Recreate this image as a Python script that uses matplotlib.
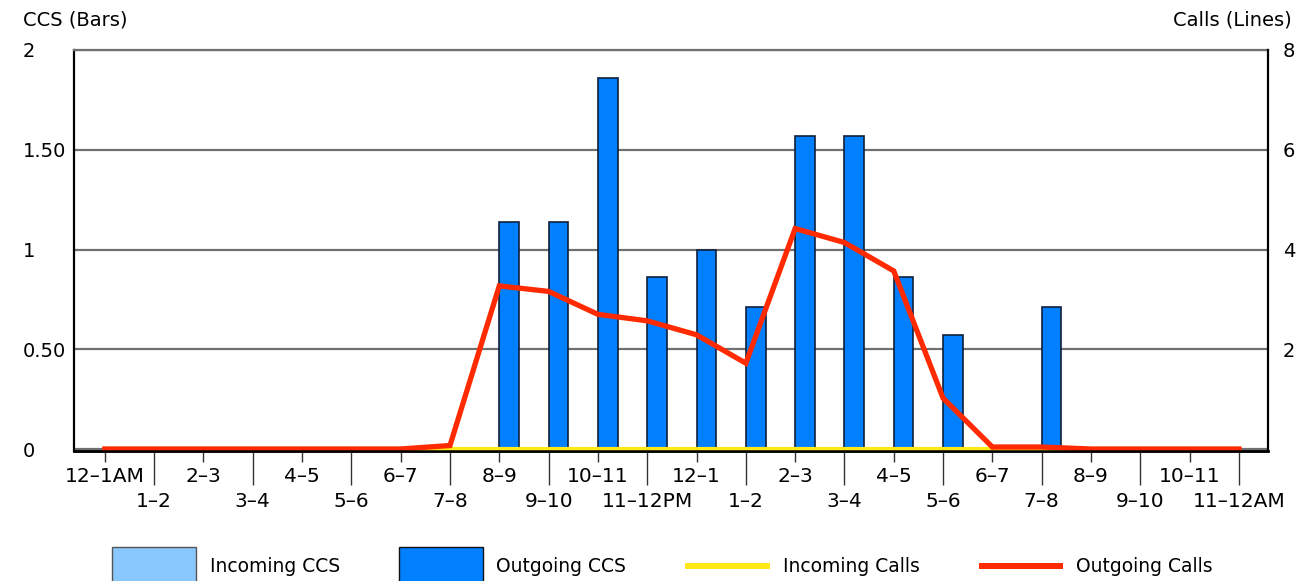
import matplotlib
matplotlib.use("Agg")
import matplotlib.pyplot as plt
from matplotlib.patches import Patch, Rectangle
from matplotlib.legend_handler import HandlerPatch
import numpy as np

# hourly buckets, midnight to midnight
hours = ["12–1AM", "1–2", "2–3", "3–4", "4–5", "5–6", "6–7", "7–8",
         "8–9", "9–10", "10–11", "11–12PM", "12–1", "1–2", "2–3", "3–4",
         "4–5", "5–6", "6–7", "7–8", "8–9", "9–10", "10–11", "11–12AM"]

incoming_ccs = [0.0] * 24
outgoing_ccs = [0, 0, 0, 0, 0, 0, 0, 0,
                1.14, 1.14, 1.86, 0.86, 1.0, 0.71, 1.57, 1.57,
                0.86, 0.57, 0, 0.71, 0, 0, 0, 0]

incoming_calls = [0.0] * 24
outgoing_calls = [0, 0, 0, 0, 0, 0, 0, 0.07,
                  3.27, 3.16, 2.70, 2.57, 2.29, 1.72, 4.42, 4.14,
                  3.57, 1.02, 0.04, 0.04, 0, 0, 0, 0]

left_ticks = [0, 0.5, 1, 1.5, 2]
left_labels = ["0", "0.50", "1", "1.50", "2"]
right_ticks = [2, 4, 6, 8]
right_labels = ["2", "4", "6", "8"]

c_light = "#88c8ff"
c_blue = "#0080ff"
c_yellow = "#ffe81a"
c_red = "#ff2a00"
grid_c = "#707070"

W, H = 1304, 581
fig = plt.figure(figsize=(W / 100, H / 100), dpi=100)
ax = fig.add_axes([74 / W, 1 - 451 / H, (1268 - 74) / W, 401 / H])

x = np.arange(len(hours))
bw = 0.4
# no outline on empty bars, otherwise they leave stubs on the axis
ax.bar(x - bw / 2, incoming_ccs, bw, color=c_light, edgecolor="#1a2840",
       linewidth=[1.0 if v > 0 else 0 for v in incoming_ccs])
ax.bar(x + bw / 2, outgoing_ccs, bw, color=c_blue, edgecolor="#10203a",
       linewidth=[1.2 if v > 0 else 0 for v in outgoing_ccs])

ax.set_xlim(-0.625, 23.59)
ax.set_ylim(-0.01, 2)
ax.set_yticks(left_ticks, left_labels, ha="left", fontsize=14)
ax.tick_params(axis="y", length=0, pad=36.7)
ax.yaxis.grid(True, color=grid_c, linewidth=1.6)
ax.set_axisbelow(True)

# x labels alternate between two rows
ax.set_xticks(x[::2], hours[::2], fontsize=14.5)
ax.set_xticks(x[1::2], hours[1::2], minor=True, fontsize=14.5)
ax.tick_params(axis="x", which="major", length=8, width=1, color="#333333", pad=3.6)
ax.tick_params(axis="x", which="minor", length=24.5, width=1, color="#333333", pad=5)

ax.spines["right"].set_visible(False)
ax.spines["top"].set_color(grid_c)
ax.spines["top"].set_linewidth(1.6)
ax.spines["left"].set_linewidth(1.6)
ax.spines["bottom"].set_linewidth(1.8)

ax2 = ax.twinx()
ax2.plot(x, incoming_calls, color=c_yellow, linewidth=3.0, zorder=2)
ax2.plot(x, outgoing_calls, color=c_red, linewidth=3.8, zorder=2,
         solid_joinstyle="miter")
ax2.set_ylim(-0.04, 8)
ax2.set_yticks(right_ticks, right_labels, ha="left", fontsize=14)
ax2.tick_params(axis="y", length=0, pad=10.8)
ax2.spines["top"].set_visible(False)
ax2.spines["left"].set_visible(False)
ax2.spines["right"].set_linewidth(1.6)
ax2.spines["bottom"].set_linewidth(1.8)

fig.text(23 / W, 1 - 20 / H, "CCS (Bars)", fontsize=14, ha="left", va="center")
fig.text(1292 / W, 1 - 20 / H, "Calls (Lines)", fontsize=14, ha="right", va="center")


# thin bar level with the legend text, stands in for the line swatches
def line_swatch(legend, orig_handle, xdescent, ydescent, width, height, fontsize):
    t = 5
    return Rectangle((-xdescent, -ydescent + height / 2 - t / 2), width, t)


handles = [
    Patch(facecolor=c_light, edgecolor="#555555", linewidth=1.0),
    Patch(facecolor=c_blue, edgecolor="#111111", linewidth=1.0),
    Patch(facecolor=c_yellow, linewidth=0),
    Patch(facecolor=c_red, linewidth=0),
]
names = ["Incoming CCS", "Outgoing CCS", "Incoming Calls", "Outgoing Calls"]
hmap = {handles[2]: HandlerPatch(patch_func=line_swatch),
        handles[3]: HandlerPatch(patch_func=line_swatch)}
fig.legend(handles, names, handler_map=hmap, loc="center left",
           bbox_to_anchor=(112 / W, 1 - 566 / H),
           ncol=4, frameon=False, fontsize=13.5, handlelength=4.5, handleheight=2.7,
           handletextpad=0.7, columnspacing=3.15, borderpad=0, borderaxespad=0)

fig.savefig("out.png", dpi=100)
